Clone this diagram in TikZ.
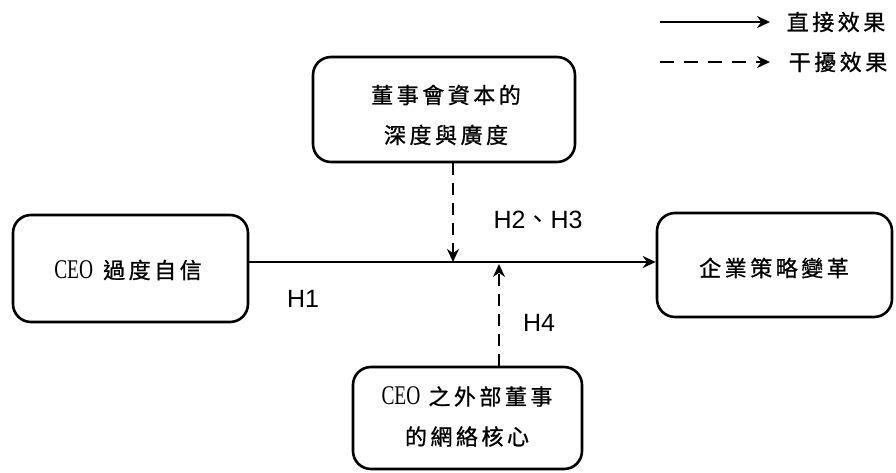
\documentclass[tikz,border=0pt]{standalone}
\usepackage{fontspec}
\usetikzlibrary{arrows.meta}
\newfontfamily\cjk[LetterSpace=16,FakeBold=0.9]{Noto Sans CJK TC}
\newfontfamily\cjkplain{Noto Sans CJK TC}
\newfontfamily\condserif[FakeStretch=0.72]{Liberation Serif}
\newfontfamily\hsans{Liberation Sans}
\tikzset{
  box/.style={draw=black, line width=2.6pt, rounded corners=18pt, align=center, inner sep=0pt},
  boxtext/.style={font=\fontsize{22}{40}\cjk, align=center, inner sep=0pt},
  conn/.style={line width=2.4pt},
  dconn/.style={line width=2.4pt, dash pattern=on 12pt off 8pt},
  tip/.style={-{Stealth[length=13pt,width=12pt]}},
  hlab/.style={font=\fontsize{25}{25}\hsans, inner sep=0pt},
}
\begin{document}
\begin{tikzpicture}[x=1pt,y=-1pt]
\useasboundingbox (0,0) rectangle (896,473);
% boxes
\node[box, minimum width=235pt, minimum height=107pt] (left) at (130.5,268.5) {};
\node[boxtext] (lefttext) at (128,270) {{\fontsize{27}{27}\condserif CEO}\hspace{10pt}過度自信};
\node[box, minimum width=235pt, minimum height=104pt] (right) at (774.5,265) {};
\node[boxtext] (righttext) at (774,268) {企業策略變革};
\node[box, minimum width=262pt, minimum height=105pt] (top) at (444,109.5) {};
\node[boxtext] (toptext) at (446,115) {董事會資本的\\深度與廣度};
\node[box, minimum width=229pt, minimum height=102pt] (bottom) at (467.5,418) {};
\node[boxtext] (bottomtext) at (467,416.5) {{\fontsize{27}{27}\condserif CEO}\hspace{8pt}之外部董事\\的網絡核心};
% connectors
\coordinate (hl) at (248,262);
\coordinate (j1) at (453,262);
\coordinate (j2) at (499,264);
\draw[conn, tip] (left.east |- hl) -- (right.west |- hl);
\draw[dconn, tip] (top.south -| j1) -- (j1);
\draw[dconn, tip] (bottom.north -| j2) -- (j2);
% labels
\node[hlab] (h1) at (303,299) {H1};
\node[hlab] (h23) at (538,220) {H2{\cjkplain 、}H3};
\node[hlab] (h4) at (539,323) {H4};
% legend
\coordinate (l1a) at (660,22);
\coordinate (l1b) at (770,22);
\coordinate (l2a) at (660,62);
\coordinate (l2b) at (770,62);
\draw[conn, tip] (l1a) -- (l1b);
\draw[line width=2.4pt, dash pattern=on 14pt off 10pt, tip] (l2a) -- (l2b);
\node[boxtext] (leg1) at (836,22) {直接效果};
\node[boxtext] (leg2) at (838,62) {干擾效果};
\end{tikzpicture}
\end{document}
